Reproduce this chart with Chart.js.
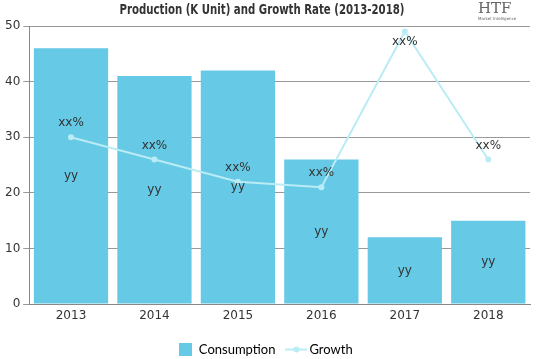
<!DOCTYPE html>
<html><head><meta charset="utf-8">
<script src="https://cdn.jsdelivr.net/npm/chart.js@4/dist/chart.umd.min.js"></script>
<style>html,body{margin:0;padding:0;background:#fff;}#wrap{position:relative;width:539px;height:359px;}
#logo{position:absolute;left:478px;top:1px;font-family:"DejaVu Serif",serif;color:#666;font-size:15px;line-height:15px;}
#logo small{display:block;font-size:4px;line-height:5px;color:#666;font-family:"DejaVu Sans";}
</style></head><body>
<div id="wrap"><canvas id="c" width="539" height="359"></canvas>
<div id="logo">HTF<small>Market Intelligence</small></div></div>
<script>
const categories = ["2013","2014","2015","2016","2017","2018"];
const consumption = [46, 41, 42, 26, 12, 15];
const growth = [30, 26, 22, 21, 49, 26];
const barLabels = ["yy","yy","yy","yy","yy","yy"];
const lineLabels = ["xx%","xx%","xx%","xx%","xx%","xx%"];
const titleText = 'Production (K Unit) and Growth Rate (2013-2018)';

const BAR = '#66c9e6', LINE = '#b9ecf5';
function rectIcon() { const c = document.createElement('canvas'); c.width = 13; c.height = 13;
  const x = c.getContext('2d'); x.fillStyle = BAR; x.fillRect(0, 0, 13, 13); return c; }
function lineIcon() { const c = document.createElement('canvas'); c.width = 22; c.height = 13;
  const x = c.getContext('2d'); x.strokeStyle = LINE; x.lineWidth = 2; x.beginPath(); x.moveTo(0, 6.5); x.lineTo(22, 6.5); x.stroke();
  x.fillStyle = LINE; x.beginPath(); x.arc(11, 6.5, 3, 0, Math.PI * 2); x.fill(); return c; }

const labelPlugin = {
  id: 'lbl',
  afterDatasetsDraw(chart) {
    const ctx = chart.ctx;
    const top = chart.chartArea.top;
    ctx.save();
    ctx.font = '12px "DejaVu Sans", sans-serif';
    ctx.fillStyle = '#333';
    ctx.textAlign = 'center';
    ctx.textBaseline = 'middle';
    chart.getDatasetMeta(1).data.forEach((b, i) => {
      ctx.fillText(barLabels[i], b.x, (b.y + b.base) / 2);
    });
    chart.getDatasetMeta(0).data.forEach((p, i) => {
      const y = (p.y - 14 < top + 8) ? p.y + 10 : p.y - 14;
      ctx.fillText(lineLabels[i], p.x, y);
    });
    ctx.font = 'bold 14px "DejaVu Sans", sans-serif';
    const w = ctx.measureText(titleText).width;
    ctx.translate(262, 10);
    ctx.scale(285 / w, 1);
    ctx.fillText(titleText, 0, 0);
    ctx.restore();
  }
};

new Chart(document.getElementById('c'), {
  data: {
    labels: categories,
    datasets: [
      { type: 'line', label: 'Growth', data: growth, borderColor: LINE, backgroundColor: LINE,
        borderWidth: 2, pointRadius: 3, pointBackgroundColor: LINE, pointBorderWidth: 0, tension: 0, order: 0 },
      { type: 'bar', label: 'Consumption', data: consumption, backgroundColor: BAR,
        barPercentage: 0.89, categoryPercentage: 1.0, order: 1 }
    ]
  },
  options: {
    responsive: false, animation: false,
    layout: { padding: { left: 2, right: 9, top: 26, bottom: -7 } },
    plugins: {
      title: { display: false },
      legend: { position: 'bottom',
        labels: { usePointStyle: true, color: '#333', font: { family: 'Lato', size: 13 }, padding: 14.5,
          generateLabels(chart) {
            return [
              { text: 'Consumption', fillStyle: BAR, strokeStyle: BAR, lineWidth: 0, datasetIndex: 1, pointStyle: rectIcon() },
              { text: 'Growth', fillStyle: LINE, strokeStyle: LINE, lineWidth: 2, datasetIndex: 0, pointStyle: lineIcon() }
            ];
          }
        } },
      tooltip: { enabled: false }
    },
    scales: {
      x: { grid: { display: false, drawTicks: false, tickLength: 0 }, border: { color: '#888' }, ticks: { color: '#333', padding: 5, font: { family: '"DejaVu Sans"', size: 12 } } },
      y: { min: 0, max: 50, ticks: { stepSize: 10, color: '#333', font: { family: '"DejaVu Sans"', size: 12 } },
        grid: { color: '#999', tickLength: 6, drawTicks: true }, border: { color: '#888', display: true } }
    }
  },
  plugins: [labelPlugin]
});
</script></body></html>
